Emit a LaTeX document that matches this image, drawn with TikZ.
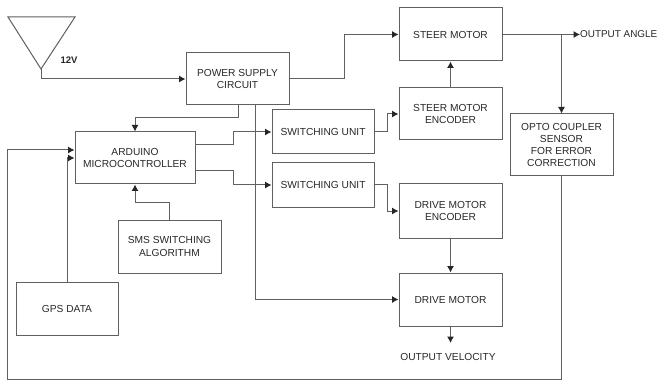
\documentclass[tikz,border=0pt]{standalone}
\usepackage{fontspec}
\setmainfont{Liberation Sans}
\usetikzlibrary{arrows.meta}
\definecolor{ln}{HTML}{606060}
\definecolor{tx}{HTML}{282828}
\tikzset{
  box/.style={draw=ln,line width=1pt,fill=white,inner sep=0pt,align=center,text=tx,
    font=\fontsize{10.2}{12.3}\selectfont,minimum width=#1},
  box/.default=103pt,
  lab/.style={inner sep=0pt,text=tx,font=\fontsize{10.2}{12.3}\selectfont},
  wire/.style={draw=ln,line width=1pt,line join=miter},
  arr/.style={wire,-{Latex[length=6.5pt,width=7pt,color=black!85]}}
}
\begin{document}
\begin{tikzpicture}[x=1pt,y=-1pt]
\useasboundingbox (0,0) rectangle (658,382);
\fill[white] (0,0) rectangle (658,382);
% antenna
\coordinate (tl) at (8,17);
\coordinate (tr) at (75,17);
\coordinate (ant) at (41,69);
\draw[wire] (tl) -- (tr) -- (ant) -- cycle;
\node[lab,font=\fontsize{9.5}{11}\selectfont\bfseries] (v12) at (69,60) {12V};
% boxes
\node[box,minimum height=52pt] (pow) at (237.5,79) {POWER SUPPLY\\CIRCUIT};
\node[box=120pt,minimum height=52pt] (ard) at (135,158) {ARDUINO\\MICROCONTROLLER};
\node[box=102pt,minimum height=44pt] (sw1) at (323,132) {SWITCHING UNIT};
\node[box=102pt,minimum height=44pt] (sw2) at (323,185) {SWITCHING UNIT};
\node[box,minimum height=53pt] (stm) at (450.5,34.5) {STEER MOTOR};
\node[box,minimum height=52pt] (ste) at (450.5,114) {STEER MOTOR\\ENCODER};
\node[box,minimum height=62pt] (opto) at (561.5,145) {OPTO COUPLER\\SENSOR\\FOR ERROR\\CORRECTION};
\node[box,minimum height=54pt] (dre) at (450.5,211) {DRIVE MOTOR\\ENCODER};
\node[box,minimum height=53pt] (drm) at (450.5,299.5) {DRIVE MOTOR};
\node[box,minimum height=53pt] (sms) at (169.5,246.5) {SMS SWITCHING\\ALGORITHM};
\node[box=102pt,minimum height=53pt] (gps) at (67,308.5) {GPS DATA};
\node[lab,anchor=west,font=\fontsize{9.9}{12}\selectfont] (oa) at (580,34.5) {OUTPUT ANGLE};
\node[lab] (ov) at (448,357) {OUTPUT VELOCITY};
\coordinate (ovtip) at (450.5,343);
% connectors
\draw[arr] (ant) |- (pow.west);
\draw[arr] (pow.east) -- (344,79) |- (stm.west);
\draw[arr] (238,105) -- (238,118) -| (ard.north);
\draw[arr] (255,105) |- (drm.west);
\draw[arr] (ard.east |- 0,145) -- (233,145) |- (sw1.west);
\draw[arr] (ard.east |- 0,171) -- (233,171) |- (sw2.west);
\draw[arr] (sw1.east) -- (387,132) |- (ste.west |- 0,114);
\draw[arr] (sw2.east) -- (387,185) |- (dre.west |- 0,211);
\draw[arr] (ste.north) -- (stm.south);
\draw[arr] (dre.south) -- (drm.north);
\draw[arr] (drm.south) -- (ovtip);
\draw[arr] (stm.east) -- (oa.west);
\draw[arr] (opto.north |- stm.east) -- (opto.north);
\draw[arr] (opto.south) -- (561.5,379) -| (7.5,150) -- (ard.west |- 0,150);
\draw[arr] (gps.north) -- (67,158) -- (ard.west |- 0,158);
\draw[arr] (sms.north) -- (169.5,202) -| (ard.south);
\end{tikzpicture}
\end{document}
